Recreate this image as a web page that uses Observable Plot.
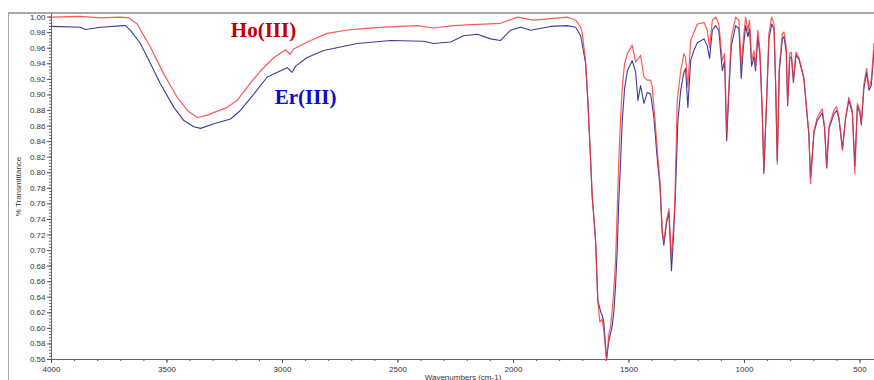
<!DOCTYPE html>
<html>
<head>
<meta charset="utf-8">
<script src="https://cdn.jsdelivr.net/npm/d3@7"></script>
<script src="https://cdn.jsdelivr.net/npm/@observablehq/plot@0.6"></script>
<style>
  html, body { margin: 0; padding: 0; background: #fff; }
  #wrap { position: relative; width: 874px; height: 380px; overflow: hidden; }
  #frame { position: absolute; left: 8px; top: 12px; width: 880px; height: 400px;
           border-top: 2px solid #a8a8a8; border-left: 1.5px solid #a8a8a8; }
  #chart { position: absolute; left: 0; top: 0; }
</style>
</head>
<body>
<div id="wrap"><div id="frame"></div><div id="chart"></div></div>
<script>
// ---- Data ----
const hoWavenumber = [4000,3874,3788,3701,3667,3629,3571,3514,3456,3412,3369,3326,3239,3196,3153,3095,3037,2987,2968,2951,2893,2806,2705,2561,2416,2346,2259,2200,2129,2056,1983,1913,1839,1767,1731,1709,1702,1688,1678,1666,1659,1652,1644,1635,1626,1616,1609,1597,1587,1580,1572,1565,1558,1551,1544,1536,1529,1519,1507,1486,1471,1461,1450,1435,1421,1406,1399,1385,1375,1366,1356,1349,1337,1327,1317,1308,1302,1291,1276,1262,1255,1245,1233,1204,1175,1161,1151,1139,1125,1111,1096,1086,1077,1067,1057,1038,1024,1014,1005,995,985,978,969,959,952,942,933,923,916,904,894,882,872,865,858,849,836,829,819,813,804,797,788,777,764,743,721,714,699,685,663,653,644,634,613,601,591,576,562,548,533,522,511,500,494,483,471,461,451,439];
const hoT = [1.000,1.001,0.999,1.000,0.999,0.991,0.961,0.927,0.897,0.880,0.871,0.874,0.884,0.893,0.910,0.931,0.948,0.958,0.952,0.959,0.968,0.979,0.984,0.987,0.989,0.986,0.989,0.990,0.991,0.992,1.000,0.996,0.998,1.000,0.996,0.987,0.979,0.944,0.893,0.816,0.769,0.743,0.710,0.636,0.608,0.612,0.597,0.559,0.593,0.602,0.624,0.653,0.687,0.751,0.816,0.871,0.910,0.940,0.953,0.964,0.942,0.946,0.951,0.923,0.919,0.919,0.910,0.859,0.820,0.790,0.726,0.711,0.739,0.754,0.691,0.726,0.756,0.893,0.931,0.953,0.948,0.910,0.970,0.991,0.993,0.983,0.961,0.996,1.000,0.991,0.944,0.953,0.850,0.914,0.974,1.000,0.996,0.936,0.970,1.000,0.983,0.996,0.944,0.957,0.936,0.983,0.957,0.880,0.803,0.893,0.979,1.000,0.991,0.914,0.811,0.936,0.979,0.981,0.961,0.889,0.953,0.955,0.919,0.955,0.948,0.923,0.850,0.786,0.854,0.871,0.882,0.859,0.807,0.859,0.880,0.885,0.871,0.829,0.871,0.897,0.880,0.799,0.889,0.880,0.863,0.914,0.934,0.910,0.919,0.966];

const erWavenumber = [4000,3874,3853,3788,3687,3680,3658,3615,3571,3528,3470,3427,3384,3355,3297,3225,3182,3124,3066,3008,2980,2958,2943,2893,2822,2676,2532,2389,2346,2272,2216,2157,2099,2056,2013,1969,1926,1839,1767,1731,1709,1688,1678,1666,1659,1652,1644,1635,1622,1616,1609,1597,1587,1572,1565,1558,1551,1544,1536,1529,1519,1507,1486,1471,1461,1450,1435,1421,1406,1392,1377,1366,1356,1349,1337,1327,1316,1307,1300,1288,1276,1262,1255,1245,1233,1219,1204,1175,1161,1151,1139,1125,1111,1096,1086,1077,1067,1057,1038,1024,1014,1005,995,985,978,969,959,952,942,933,923,916,904,894,882,872,865,858,849,836,829,819,813,804,797,788,777,764,743,721,714,699,685,663,653,644,634,613,601,591,576,562,548,533,522,511,500,494,483,471,461,451,439];
const erT = [0.988,0.987,0.984,0.987,0.989,0.989,0.983,0.966,0.940,0.914,0.884,0.867,0.859,0.857,0.863,0.869,0.880,0.901,0.923,0.931,0.935,0.929,0.937,0.948,0.957,0.966,0.970,0.969,0.966,0.968,0.976,0.978,0.972,0.970,0.983,0.987,0.983,0.988,0.989,0.987,0.976,0.941,0.893,0.816,0.769,0.743,0.710,0.636,0.621,0.617,0.608,0.561,0.584,0.604,0.623,0.655,0.700,0.764,0.816,0.867,0.908,0.931,0.944,0.929,0.893,0.912,0.889,0.903,0.901,0.871,0.816,0.784,0.723,0.707,0.736,0.749,0.674,0.719,0.764,0.867,0.906,0.929,0.934,0.884,0.944,0.957,0.967,0.972,0.963,0.947,0.983,0.989,0.983,0.931,0.944,0.841,0.906,0.963,0.989,0.985,0.921,0.960,0.989,0.975,0.985,0.937,0.949,0.931,0.975,0.951,0.877,0.799,0.893,0.972,0.991,0.985,0.912,0.816,0.931,0.972,0.975,0.955,0.886,0.947,0.949,0.916,0.951,0.946,0.921,0.848,0.793,0.852,0.867,0.877,0.857,0.806,0.857,0.875,0.880,0.870,0.831,0.870,0.893,0.877,0.809,0.886,0.876,0.861,0.908,0.929,0.906,0.912,0.957];

const seriesLabels = ["Ho(III)", "Er(III)"];
const labelWavenumber = [3082, 2900];
const labelT = [0.983, 0.897];

const xMajorTicks = [4000, 3500, 3000, 2500, 2000, 1500, 1000, 500];
const yMajorTicks = [0.56,0.58,0.60,0.62,0.64,0.66,0.68,0.70,0.72,0.74,0.76,0.78,0.80,0.82,0.84,0.86,0.88,0.90,0.92,0.94,0.96,0.98,1.00];

// ---- Build tables ----
const ho = hoWavenumber.map((w, i) => ({w, t: hoT[i]}));
const er = erWavenumber.map((w, i) => ({w, t: erT[i]}));
const labels = seriesLabels.map((s, i) => ({s, w: labelWavenumber[i], t: labelT[i]}));
const xMinor = d3.range(4000, 437, -100);
const yMinor = d3.range(0.56, 1.004, 0.004).map(v => +v.toFixed(3));

const chart = Plot.plot({
  width: 874,
  height: 380,
  marginLeft: 51,
  marginRight: 0,
  marginTop: 13,
  marginBottom: 21,
  style: {fontFamily: "Liberation Sans, Arial, sans-serif", fontSize: "8px", color: "#333", background: "transparent"},
  x: {domain: [4000, 437], label: null},
  y: {domain: [0.56, 1.0046], label: null},
  marks: [
    Plot.axisX(xMinor, {tickSize: 2, tickFormat: () => "", stroke: "#555", label: null}),
    Plot.axisX(xMajorTicks, {tickSize: 4, tickPadding: 3, tickFormat: d => String(d), stroke: "#555", fill: "#333",
      label: "Wavenumbers (cm-1)", labelAnchor: "center", labelOffset: 20, labelArrow: "none"}),
    Plot.axisY(yMinor, {tickSize: 2, tickFormat: () => "", stroke: "#666", label: null}),
    Plot.axisY(yMajorTicks, {tickSize: 4, tickPadding: 2, tickFormat: d3.format(".2f"), stroke: "#555", fill: "#333",
      label: "% Transmittance", labelAnchor: "center", labelOffset: 36, labelArrow: "none"}),
    Plot.ruleX([4000], {stroke: "#666"}),
    Plot.ruleY([0.56], {stroke: "#666"}),
    Plot.line(er, {x: "w", y: "t", stroke: "#3c3c98", strokeWidth: 1.1}),
    Plot.line(ho, {x: "w", y: "t", stroke: "#ff3030", strokeWidth: 1.2, strokeOpacity: 0.8}),
    Plot.text(labels, {x: "w", y: "t", text: "s", fontSize: 21, fontWeight: "bold",
      fontFamily: "Liberation Serif, Times New Roman, serif",
      fill: d => d.s === "Ho(III)" ? "#c00000" : "#0a0ad0"})
  ]
});
document.getElementById("chart").appendChild(chart);
</script>
</body>
</html>
